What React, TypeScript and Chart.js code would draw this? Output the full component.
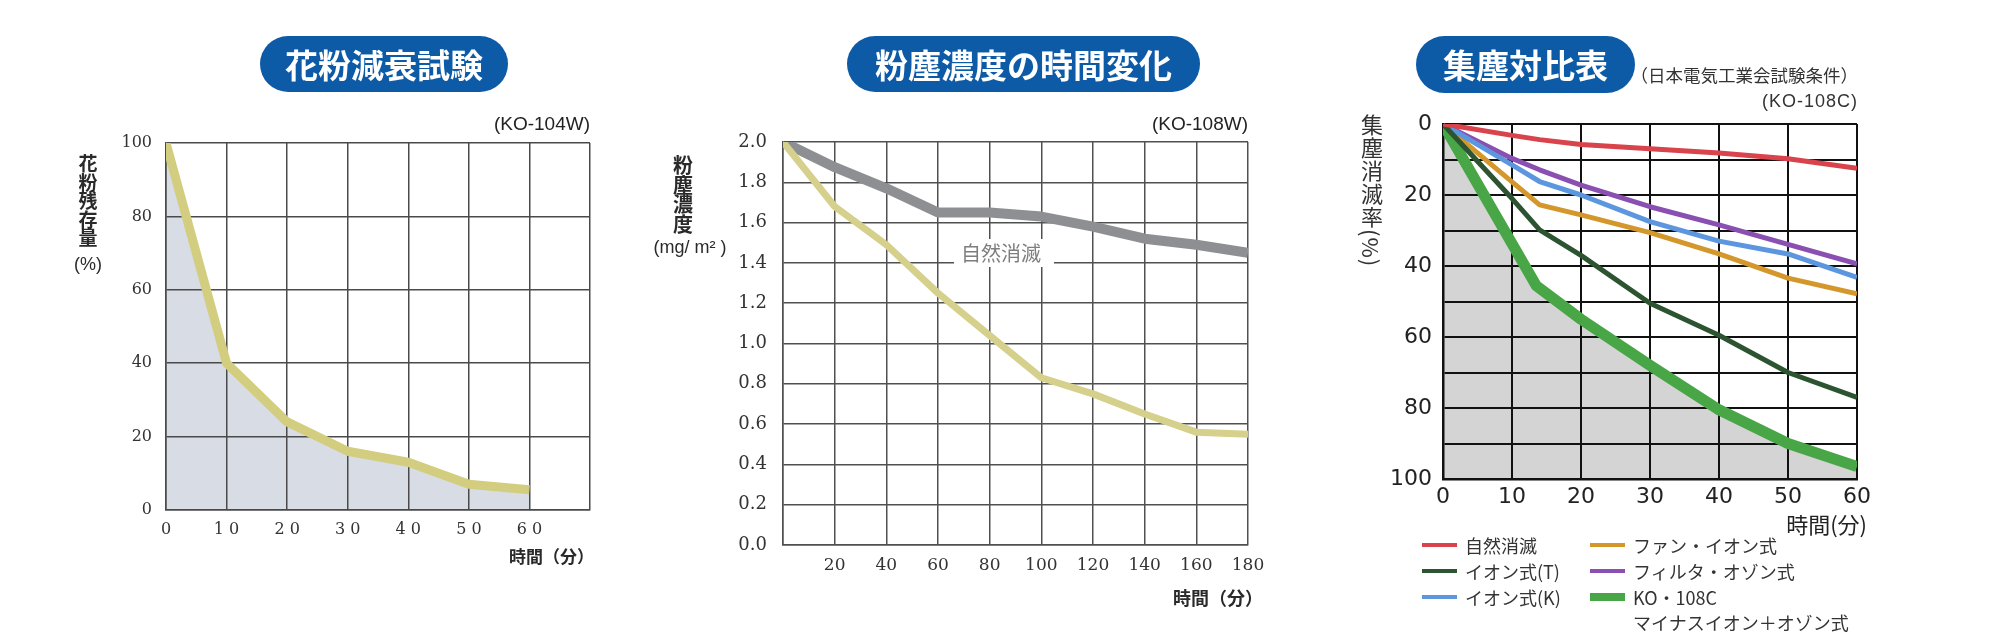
import React, { useEffect, useRef } from "react";
import { Chart, registerables } from "chart.js";

Chart.register(...registerables);

// ---------- Panel 1: 花粉減衰試験 (KO-104W) ----------
const pollenMinutes = [0, 10, 20, 30, 40, 50, 60];
const pollenRemaining = [100, 40, 24, 16, 13, 7, 5.5];
const pollenXLabels = ["0", "1 0", "2 0", "3 0", "4 0", "5 0", "6 0"];

// ---------- Panel 2: 粉塵濃度の時間変化 (KO-108W) ----------
const concMinutes = [0, 20, 40, 60, 80, 100, 120, 140, 160, 180];
const concNatural = [2.0, 1.875, 1.77, 1.65, 1.65, 1.63, 1.58, 1.52, 1.49, 1.45];
const concKO108W = [2.0, 1.68, 1.49, 1.25, 1.04, 0.83, 0.75, 0.65, 0.56, 0.55];

// ---------- Panel 3: 集塵対比表 (KO-108C) ----------
const collectMinutes = [0, 10, 14, 20, 30, 40, 50, 60];
const collectNatural = [0, 3.2, 4.4, 5.8, 7, 8.2, 9.8, 12.5];
const collectIonT = [0, 21, 29.8, 37, 50.5, 59.5, 70, 77];
const collectIonK = [0, 11.5, 16.2, 20, 27.5, 33, 36.6, 43.2];
const collectFanIon = [0, 16.3, 22.8, 25.6, 30.6, 36.6, 43.4, 47.8];
const collectFilterOzone = [0, 9.7, 12.9, 17.2, 23.3, 28.4, 33.9, 39.4];
const ko108cMinutes = [0, 13.5, 20, 30, 40, 50, 60];
const collectKO108C = [0, 45.5, 55, 68, 80.5, 90, 96.5];
const collectLabels = ["自然消滅", "イオン式(T)", "イオン式(K)", "ファン・イオン式", "フィルタ・オゾン式", "KO・108C"];
const collectLabelExtra = "マイナスイオン＋オゾン式";
const collectColors = ["#d8434c", "#2c5431", "#5b96de", "#d3972c", "#8a50b1", "#48a647"];
const collectWidths = [5, 5, 5, 5, 5, 11];

const JP = '"Noto Sans CJK JP", "Noto Sans", sans-serif';
const W = 2000;
const H = 639;

const pts = (xs: number[], ys: number[]) => xs.map((x, i) => ({ x, y: ys[i] }));
const fitY = (w: number) => (s: any) => {
  s.width = w;
  s.paddingTop = 0;
  s.paddingBottom = 0;
};
const fitX = (h: number) => (s: any) => {
  s.height = h;
  s.paddingLeft = 0;
  s.paddingRight = 0;
};

const baseOptions = (padding: any) => ({
  responsive: false,
  animation: false as const,
  devicePixelRatio: 1,
  events: [] as any[],
  layout: { padding },
  plugins: {
    legend: { display: false },
    tooltip: { enabled: false },
    filler: { drawTime: "beforeDraw" },
  },
});

function makePollen(): any {
  const grid = { color: "#4a4a4a", lineWidth: 1.5, drawTicks: false };
  const border = { color: "#4a4a4a", width: 1.5 };
  return {
    type: "line",
    data: {
      datasets: [
        {
          label: "花粉残存量",
          data: pts(pollenMinutes, pollenRemaining),
          borderColor: "#d3cd7f",
          borderWidth: 9,
          backgroundColor: "#d8dce4",
          fill: "origin",
          pointRadius: 0,
          tension: 0,
          borderJoinStyle: "round",
        },
      ],
    },
    options: {
      ...baseOptions({ left: 106, right: W - 590, top: 143, bottom: H - 510 - 40 }),
      scales: {
        x: {
          type: "linear",
          min: 0,
          max: 70,
          ticks: {
            stepSize: 10,
            autoSkip: false,
            maxRotation: 0,
            padding: 10,
            color: "#333",
            font: { family: '"DejaVu Serif", serif', size: 16 },
            callback: (v: number) => {
              const i = pollenMinutes.indexOf(v);
              return i >= 0 ? pollenXLabels[i] : "";
            },
          },
          grid,
          border,
          afterFit: fitX(40),
        },
        y: {
          min: 0,
          max: 100,
          ticks: {
            stepSize: 20,
            padding: 14,
            color: "#333",
            font: { family: '"DejaVu Serif", serif', size: 16 },
          },
          grid,
          border,
          afterFit: fitY(60),
        },
      },
    },
  };
}

function makeConcentration(): any {
  const grid = { color: "#505050", lineWidth: 1.5, drawTicks: false };
  const border = { color: "#505050", width: 1.5 };
  return {
    type: "line",
    data: {
      datasets: [
        {
          label: "KO-108W",
          data: pts(concMinutes, concKO108W),
          borderColor: "#d5d08b",
          borderWidth: 7,
          pointRadius: 0,
          tension: 0,
          borderJoinStyle: "round",
          fill: false,
        },
        {
          label: "自然消滅",
          data: pts(concMinutes, concNatural),
          borderColor: "#8e8f93",
          borderWidth: 10,
          pointRadius: 0,
          tension: 0,
          borderJoinStyle: "round",
          fill: false,
        },
      ],
    },
    options: {
      ...baseOptions({ left: 723, right: W - 1248, top: 142, bottom: H - 545 - 40 }),
      scales: {
        x: {
          type: "linear",
          min: 0,
          max: 180,
          ticks: {
            stepSize: 20,
            autoSkip: false,
            maxRotation: 0,
            padding: 10,
            color: "#333",
            font: { family: '"DejaVu Serif", serif', size: 17 },
            callback: (v: number) => (v === 0 ? "" : String(v)),
          },
          grid,
          border,
          afterFit: fitX(40),
        },
        y: {
          min: 0,
          max: 2,
          ticks: {
            stepSize: 0.2,
            padding: 16,
            color: "#333",
            font: { family: '"DejaVu Serif", serif', size: 18 },
            callback: (v: number) => Number(v).toFixed(1),
          },
          grid,
          border,
          afterFit: fitY(60),
        },
      },
    },
  };
}

function makeCollection(): any {
  const series = [collectNatural, collectIonT, collectIonK, collectFanIon, collectFilterOzone];
  const datasets: any[] = series.map((ys, i) => ({
    label: collectLabels[i],
    data: pts(collectMinutes, ys),
    borderColor: collectColors[i],
    borderWidth: collectWidths[i],
    pointRadius: 0,
    tension: 0,
    borderJoinStyle: "round",
    fill: false,
  }));
  datasets.push({
    label: collectLabels[5],
    data: pts(ko108cMinutes, collectKO108C),
    borderColor: collectColors[5],
    borderWidth: collectWidths[5],
    backgroundColor: "#d4d4d4",
    fill: { value: 100 },
    pointRadius: 0,
    tension: 0,
    borderJoinStyle: "round",
  });
  const grid = { color: "#111", lineWidth: 2, drawTicks: false };
  const border = { color: "#111", width: 2.5 };
  const font = { family: '"DejaVu Sans", sans-serif', size: 22 };
  return {
    type: "line",
    data: { datasets },
    options: {
      ...baseOptions({ left: 1383, right: W - 1857, top: 124, bottom: H - 479 - 40 }),
      scales: {
        x: {
          type: "linear",
          min: 0,
          max: 60,
          ticks: { stepSize: 10, autoSkip: false, maxRotation: 0, padding: 5, color: "#222", font },
          grid,
          border,
          afterFit: fitX(40),
        },
        y: {
          min: 0,
          max: 100,
          reverse: true,
          ticks: {
            stepSize: 10,
            padding: 11,
            color: "#222",
            font,
            callback: (v: number) => (v % 20 === 0 ? String(v) : ""),
          },
          grid,
          border,
          afterFit: fitY(60),
        },
      },
    },
  };
}

function ChartCanvas({ make }: { make: () => any }) {
  const ref = useRef<HTMLCanvasElement>(null);
  useEffect(() => {
    const chart = new Chart(ref.current as HTMLCanvasElement, make());
    return () => chart.destroy();
  }, []);
  return (
    <canvas
      ref={ref}
      width={W}
      height={H}
      style={{ position: "absolute", left: 0, top: 0, width: W, height: H }}
    />
  );
}

type TProps = {
  x: number;
  y: number;
  size: number;
  align?: "left" | "right" | "center";
  color?: string;
  weight?: number;
  family?: string;
  spacing?: number;
  children: React.ReactNode;
};

function Txt({ x, y, size, align = "left", color = "#333", weight = 400, family = JP, spacing = 0, children }: TProps) {
  const h = Math.round(size * 1.5);
  const style: React.CSSProperties = {
    position: "absolute",
    top: y - h / 2,
    height: h,
    lineHeight: h + "px",
    fontSize: size,
    fontFamily: family,
    fontWeight: weight,
    color,
    whiteSpace: "nowrap",
    letterSpacing: spacing,
  };
  if (align === "left") style.left = x;
  else if (align === "right") style.right = W - x;
  else {
    style.left = x - 300;
    style.width = 600;
    style.textAlign = "center";
  }
  return <div style={style}>{children}</div>;
}

function Pill({ left, top, width, height, text }: { left: number; top: number; width: number; height: number; text: string }) {
  return (
    <div
      style={{
        position: "absolute",
        left,
        top,
        width,
        height,
        borderRadius: height / 2,
        background: "#0d5aa7",
        color: "#fff",
        fontFamily: JP,
        fontWeight: 700,
        fontSize: 33,
        lineHeight: height + "px",
        textAlign: "center",
        whiteSpace: "nowrap",
      }}
    >
      {text}
    </div>
  );
}

function VChars({ x, y0, step, size, text, weight = 700 }: { x: number; y0: number; step: number; size: number; text: string; weight?: number }) {
  return (
    <>
      {Array.from(text).map((c, i) => (
        <Txt key={i} x={x} y={y0 + i * step} size={size} align="center" weight={weight} color="#2a2a2a">
          {c}
        </Txt>
      ))}
    </>
  );
}

export default function App() {
  const legendCols = [1422, 1590];
  const legendRows = [545, 571, 597];
  return (
    <div style={{ position: "absolute", left: 0, top: 0, width: W, height: H, background: "#fff", overflow: "hidden" }}>
      <ChartCanvas make={makePollen} />
      <ChartCanvas make={makeConcentration} />
      <ChartCanvas make={makeCollection} />

      {/* Panel 1 */}
      <Pill left={260} top={36} width={248} height={56} text="花粉減衰試験" />
      <Txt x={590} y={123} size={19} align="right" color="#222" family='"Liberation Sans", Arial, sans-serif'>
        (KO-104W)
      </Txt>
      <VChars x={88} y0={162.5} step={18.6} size={19} text="花粉残存量" />
      <Txt x={88} y={264} size={18} align="center" color="#2a2a2a" family='"Liberation Sans", Arial, sans-serif'>
        (%)
      </Txt>
      <Txt x={594} y={556} size={17} align="right" weight={700} color="#2a2a2a">
        時間（分）
      </Txt>

      {/* Panel 2 */}
      <Pill left={847} top={36} width={353} height={56} text="粉塵濃度の時間変化" />
      <Txt x={1248} y={123} size={19} align="right" color="#222" family='"Liberation Sans", Arial, sans-serif'>
        (KO-108W)
      </Txt>
      <VChars x={683} y0={165} step={19.5} size={20} text="粉塵濃度" />
      <Txt x={690} y={247} size={18} align="center" color="#2a2a2a" family='"Liberation Sans", Arial, sans-serif'>
        (mg/ m² )
      </Txt>
      <div style={{ position: "absolute", left: 954, top: 239, width: 100, height: 28, background: "#fff" }} />
      <Txt x={1001} y={253} size={20} align="center" color="#7e7e7e">
        自然消滅
      </Txt>
      <Txt x={1263} y={597} size={18} align="right" weight={700} color="#2a2a2a">
        時間（分）
      </Txt>

      {/* Panel 3 */}
      <Pill left={1416} top={36} width={219} height={57} text="集塵対比表" />
      <Txt x={1858} y={75} size={17.5} align="right" color="#333">
        （日本電気工業会試験条件）
      </Txt>
      <Txt x={1858} y={101} size={18} align="right" color="#333" spacing={1} family='"Liberation Sans", Arial, sans-serif'>
        (KO-108C)
      </Txt>
      <div
        style={{
          position: "absolute",
          left: 1361,
          top: 114,
          writingMode: "vertical-rl",
          fontFamily: JP,
          fontSize: 22,
          lineHeight: "22px",
          letterSpacing: 1,
          color: "#333",
          whiteSpace: "nowrap",
        }}
      >
        集塵消滅率(%)
      </div>
      <Txt x={1867} y={523} size={22} align="right" color="#222">
        時間(分)
      </Txt>

      {collectLabels.map((label, i) => {
        const col = Math.floor(i / 3);
        const row = i % 3;
        const sx = legendCols[col];
        const cy = legendRows[row];
        const sh = i === 5 ? 8 : 4;
        return (
          <React.Fragment key={label}>
            <div
              style={{
                position: "absolute",
                left: sx,
                top: cy - sh / 2,
                width: 35,
                height: sh,
                background: collectColors[i],
              }}
            />
            <Txt x={sx + 43} y={cy} size={18} color="#333">
              {label}
            </Txt>
          </React.Fragment>
        );
      })}
      <Txt x={legendCols[1] + 43} y={622} size={18} color="#333">
        {collectLabelExtra}
      </Txt>
    </div>
  );
}
